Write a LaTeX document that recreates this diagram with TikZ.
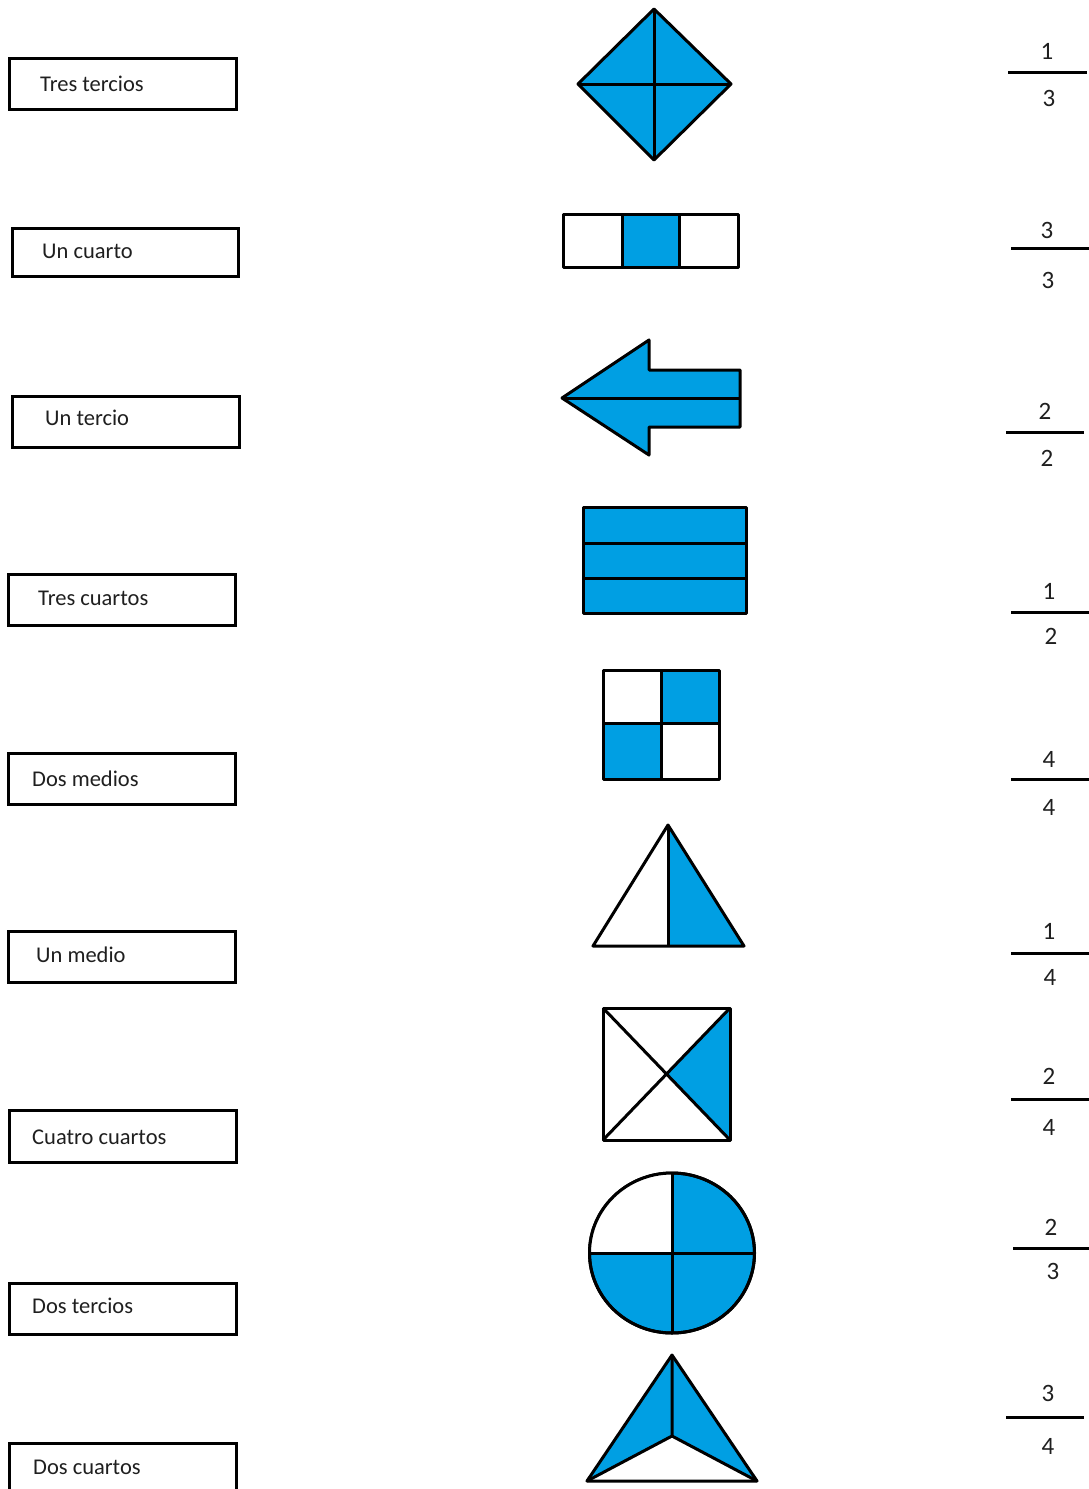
\documentclass[tikz,border=0pt]{standalone}
\usepackage{fontspec}
\setmainfont{Carlito}
\definecolor{fblue}{RGB}{0,159,227}
\begin{document}
\begin{tikzpicture}[x=1pt,y=-1pt,
  labelbox/.style={draw=black,line width=3pt,minimum width=227pt,minimum height=51pt,anchor=north west,inner sep=0pt},
  labeltext/.style={anchor=base west,inner sep=0pt,font=\fontsize{22.5}{27}\selectfont,text=black!88},
  digit/.style={anchor=center,inner sep=0pt,font=\fontsize{25}{29}\selectfont,text=black!88},
  fracline/.style={line width=3pt},
  shp/.style={line width=3pt,line join=round},
  bluefill/.style={fill=fblue}]
\useasboundingbox (0,0) rectangle (1089,1489);
% ---- left labels
\node[labelbox] (b1) at (8,57) {};
\node[labeltext] (t1) at (40,91) {Tres tercios};
\node[labelbox,minimum width=226pt,minimum height=48pt] (b2) at (11,227) {};
\node[labeltext] (t2) at (42,258) {Un cuarto};
\node[labelbox] (b3) at (11,395) {};
\node[labeltext] (t3) at (45,425) {Un tercio};
\node[labelbox] (b4) at (7,573) {};
\node[labeltext] (t4) at (38,605) {Tres cuartos};
\node[labelbox] (b5) at (7,752) {};
\node[labeltext] (t5) at (32,786) {Dos medios};
\node[labelbox] (b6) at (7,930) {};
\node[labeltext] (t6) at (36,962) {Un medio};
\node[labelbox,minimum height=52pt] (b7) at (8,1109) {};
\node[labeltext] (t7) at (32,1144) {Cuatro cuartos};
\node[labelbox] (b8) at (8,1282) {};
\node[labeltext] (t8) at (32,1313) {Dos tercios};
\node[labelbox,minimum height=70pt] (b9) at (8,1442) {};
\node[labeltext] (t9) at (33,1474) {Dos cuartos};
% ---- shapes
% 1 diamond
\filldraw[shp,bluefill] (654,9) -- (731,84) -- (654,160) -- (578,84) -- cycle;
\draw[shp] (654,9) -- (654,160) (578,84) -- (731,84);
% 2 strip of thirds
\fill[fblue] (622,214) rectangle (679,267);
\draw[shp] (563,214) rectangle (738,267);
\draw[shp] (622,214) -- (622,267) (679,214) -- (679,267);
% 3 arrow
\filldraw[shp,bluefill] (562,398) -- (649,340) -- (649,370) -- (740,370) -- (740,427) -- (649,427) -- (649,455) -- cycle;
\draw[shp] (562,398) -- (740,398);
% 4 three strips
\filldraw[shp,bluefill] (583,507) rectangle (746,613);
\draw[shp] (583,543) -- (746,543) (583,578) -- (746,578);
% 5 checker
\fill[fblue] (661,670) rectangle (719,723);
\fill[fblue] (603,723) rectangle (661,779);
\draw[shp] (603,670) rectangle (719,779);
\draw[shp] (661,670) -- (661,779) (603,723) -- (719,723);
% 6 triangle halves
\fill[fblue] (668,825) -- (744,946) -- (668,946) -- cycle;
\draw[shp] (668,825) -- (744,946) -- (593,946) -- cycle;
\draw[shp] (668,825) -- (668,946);
% 7 square with X
\fill[fblue] (666,1074) -- (730,1008) -- (730,1140) -- cycle;
\draw[shp] (603,1008) rectangle (730,1140);
\draw[shp] (603,1008) -- (730,1140) (603,1140) -- (730,1008);
% 8 circle quarters
\filldraw[shp,bluefill] (672,1253) ellipse [x radius=82.5,y radius=80];
\fill[white] (672,1253) -- (589.5,1253) arc[start angle=180,end angle=270,x radius=82.5,y radius=80] -- cycle;
\draw[shp] (672,1253) ellipse [x radius=82.5,y radius=80];
\draw[shp] (589.5,1253) -- (754.5,1253) (672,1173) -- (672,1333);
% 9 triangle with inner point
\fill[fblue] (672,1355) -- (587,1481) -- (672,1436) -- (757,1481) -- cycle;
\draw[shp] (672,1355) -- (757,1481) -- (587,1481) -- cycle;
\draw[shp] (672,1355) -- (672,1436) (587,1481) -- (672,1436) -- (757,1481);
% ---- fractions
\node[digit] (n1) at (1047,51) {1};
\coordinate (l1a) at (1008,72); \coordinate (l1b) at (1087,72);
\draw[fracline] (l1a) -- (l1b);
\node[digit] (d1) at (1049,98) {3};
\node[digit] (n2) at (1047,230) {3};
\coordinate (l2a) at (1011,248); \coordinate (l2b) at (1089,248);
\draw[fracline] (l2a) -- (l2b);
\node[digit] (d2) at (1048,280) {3};
\node[digit] (n3) at (1045,411) {2};
\coordinate (l3a) at (1006,432); \coordinate (l3b) at (1084,432);
\draw[fracline] (l3a) -- (l3b);
\node[digit] (d3) at (1047,458) {2};
\node[digit] (n4) at (1049,591) {1};
\coordinate (l4a) at (1011,612); \coordinate (l4b) at (1089,612);
\draw[fracline] (l4a) -- (l4b);
\node[digit] (d4) at (1051,636) {2};
\node[digit] (n5) at (1049,759) {4};
\coordinate (l5a) at (1011,779); \coordinate (l5b) at (1089,779);
\draw[fracline] (l5a) -- (l5b);
\node[digit] (d5) at (1049,807) {4};
\node[digit] (n6) at (1049,931) {1};
\coordinate (l6a) at (1011,953); \coordinate (l6b) at (1089,953);
\draw[fracline] (l6a) -- (l6b);
\node[digit] (d6) at (1050,977) {4};
\node[digit] (n7) at (1049,1076) {2};
\coordinate (l7a) at (1011,1099); \coordinate (l7b) at (1089,1099);
\draw[fracline] (l7a) -- (l7b);
\node[digit] (d7) at (1049,1127) {4};
\node[digit] (n8) at (1051,1227) {2};
\coordinate (l8a) at (1013,1248); \coordinate (l8b) at (1089,1248);
\draw[fracline] (l8a) -- (l8b);
\node[digit] (d8) at (1053,1271) {3};
\node[digit] (n9) at (1048,1393) {3};
\coordinate (l9a) at (1006,1417); \coordinate (l9b) at (1084,1417);
\draw[fracline] (l9a) -- (l9b);
\node[digit] (d9) at (1048,1446) {4};
\end{tikzpicture}
\end{document}
